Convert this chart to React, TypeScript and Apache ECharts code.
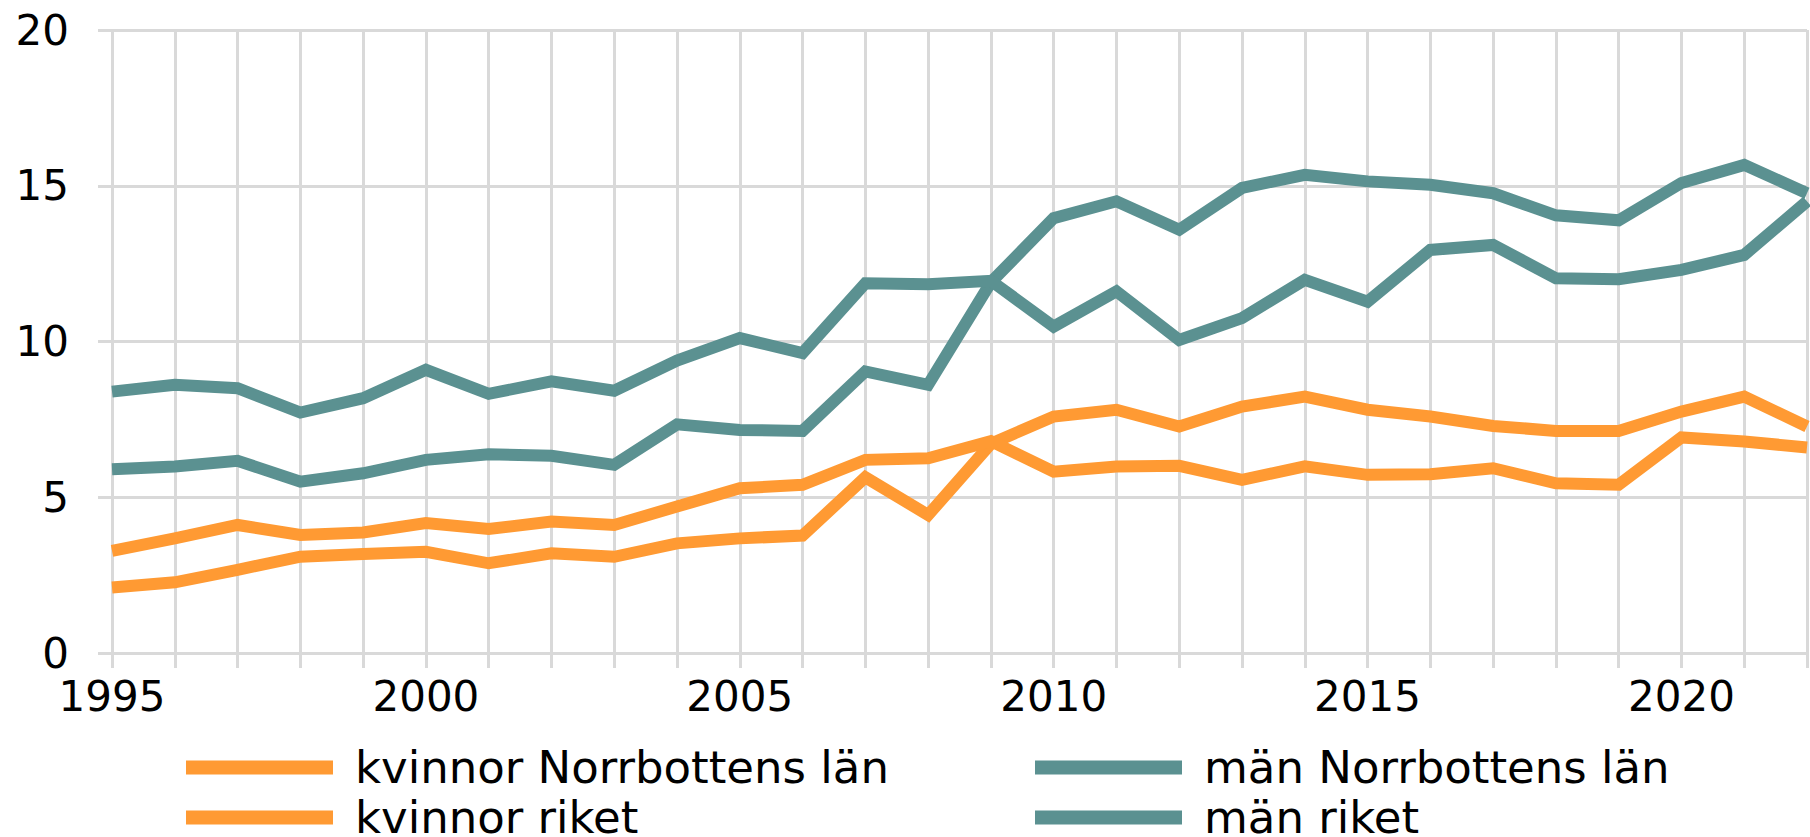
import React, { useEffect, useRef } from "react";
import * as echarts from "echarts";

const years = [
  "1995", "1996", "1997", "1998", "1999", "2000", "2001", "2002", "2003", "2004",
  "2005", "2006", "2007", "2008", "2009", "2010", "2011", "2012", "2013", "2014",
  "2015", "2016", "2017", "2018", "2019", "2020", "2021", "2022",
];

const kvinnorNorrbotten = [
  2.10, 2.27, 2.67, 3.09, 3.18, 3.25, 2.88, 3.20, 3.09, 3.52,
  3.68, 3.77, 5.64, 4.43, 6.72, 7.59, 7.81, 7.27, 7.91, 8.23,
  7.81, 7.59, 7.29, 7.13, 7.13, 7.75, 8.23, 7.27,
];

const kvinnorRiket = [
  3.28, 3.68, 4.11, 3.79, 3.87, 4.17, 3.98, 4.22, 4.11, 4.70,
  5.29, 5.40, 6.20, 6.25, 6.80, 5.82, 5.99, 6.01, 5.56, 5.99,
  5.72, 5.74, 5.93, 5.45, 5.40, 6.92, 6.79, 6.60,
];

const manNorrbotten = [
  5.90, 5.99, 6.17, 5.50, 5.77, 6.20, 6.38, 6.33, 6.04, 7.34,
  7.16, 7.13, 9.04, 8.61, 11.90, 13.96, 14.50, 13.59, 14.93, 15.35,
  15.14, 15.03, 14.76, 14.05, 13.89, 15.09, 15.67, 14.76,
];

const manRiket = [
  8.39, 8.61, 8.50, 7.72, 8.18, 9.09, 8.32, 8.72, 8.42, 9.39,
  10.11, 9.63, 11.87, 11.84, 11.95, 10.48, 11.61, 10.05, 10.75, 11.98,
  11.28, 12.94, 13.10, 12.03, 12.00, 12.30, 12.78, 14.50,
];

const seriesNames = [
  "kvinnor Norrbottens län",
  "män Norrbottens län",
  "kvinnor riket",
  "män riket",
];

const ORANGE = "#ff9a33";
const TEAL = "#5b9191";
const GRID = "#d9d9d9";
const FONT = 'Verdana, "DejaVu Sans", sans-serif';

export default function App() {
  const ref = useRef<HTMLDivElement>(null);

  useEffect(() => {
    if (!ref.current) return;
    const chart = echarts.init(ref.current, null, { renderer: "svg" });

    const seriesData = [kvinnorNorrbotten, manNorrbotten, kvinnorRiket, manRiket];
    const colors = [ORANGE, TEAL, ORANGE, TEAL];

    const legendPos = [
      { left: 186, top: 745 },
      { left: 1035, top: 745 },
      { left: 186, top: 795 },
      { left: 1035, top: 795 },
    ];

    chart.setOption({
      animation: false,
      grid: { left: 112, right: 3, top: 30, bottom: 184, containLabel: false },
      legend: seriesNames.map((name, i) => ({
        data: [name],
        left: legendPos[i].left,
        top: legendPos[i].top,
        padding: 0,
        icon: "rect",
        itemWidth: 147,
        itemHeight: 14,
        selectedMode: false,
        textStyle: {
          fontFamily: FONT,
          fontSize: 45,
          color: "#000",
          lineHeight: 36,
          padding: [0, 0, 0, 17],
        },
      })),
      xAxis: {
        type: "category",
        data: years,
        boundaryGap: false,
        axisLine: { show: false },
        axisTick: {
          show: true,
          interval: 0,
          length: 15,
          lineStyle: { color: GRID, width: 3 },
        },
        axisLabel: {
          interval: 4,
          fontFamily: FONT,
          fontSize: 42,
          color: "#000",
          margin: 22,
        },
        splitLine: {
          show: true,
          interval: 0,
          lineStyle: { color: GRID, width: 3 },
        },
      },
      yAxis: {
        type: "value",
        min: 0,
        max: 20,
        interval: 5,
        axisLine: { show: false },
        axisTick: {
          show: true,
          length: 14,
          lineStyle: { color: GRID, width: 3 },
        },
        axisLabel: {
          fontFamily: FONT,
          fontSize: 42,
          color: "#000",
          margin: 43,
        },
        splitLine: { show: true, lineStyle: { color: GRID, width: 3 } },
      },
      series: seriesNames.map((name, i) => ({
        name,
        type: "line",
        data: seriesData[i],
        showSymbol: false,
        symbol: "none",
        color: colors[i],
        lineStyle: { color: colors[i], width: 12, join: "miter" },
        itemStyle: { color: colors[i] },
      })),
    });

    return () => chart.dispose();
  }, []);

  return (
    <div
      ref={ref}
      style={{ position: "absolute", left: 0, top: 0, width: 1810, height: 837, background: "#fff" }}
    />
  );
}
